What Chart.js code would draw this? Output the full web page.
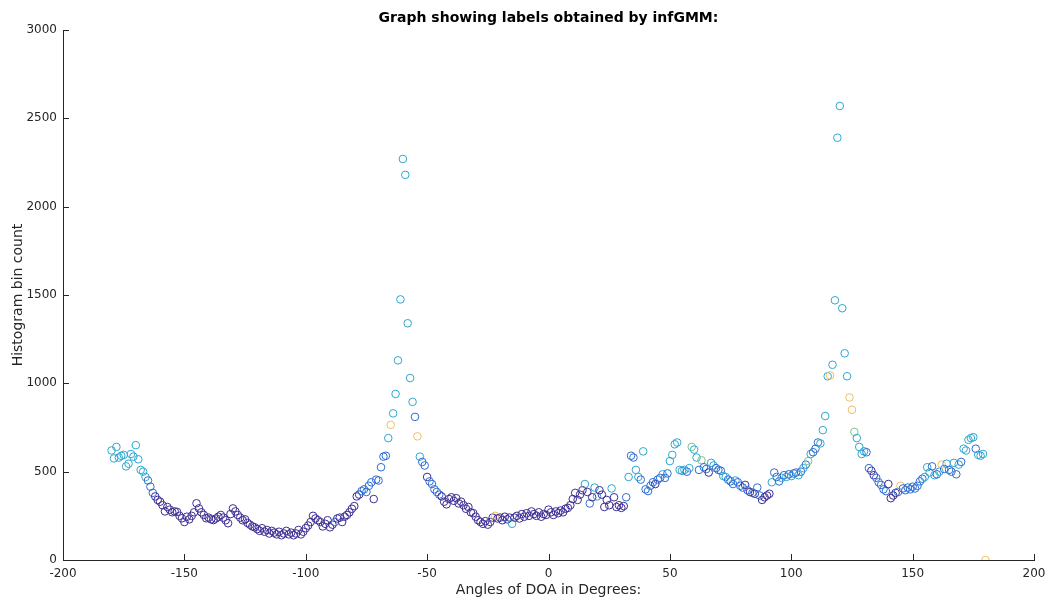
<!DOCTYPE html>
<html>
<head>
<meta charset="utf-8">
<script src="https://cdn.jsdelivr.net/npm/chart.js@4.4.0/dist/chart.umd.min.js"></script>
<style>
  html, body { margin: 0; padding: 0; background: #fff; }
</style>
</head>
<body>
<canvas id="labelChart" width="1047" height="600"></canvas>
<script>
// Histogramm der DOA-Winkel, gefärbt nach infGMM-Label
const chartTitle = 'Graph showing labels obtained by infGMM:';
const xTitle = 'Angles of DOA in Degrees:';
const yTitle = 'Histogram bin count';

// Bins von -180 bis 180 Grad, 1 Grad breit
const angles = Array.from({ length: 361 }, (_, i) => i - 180);

const counts = [
  620, 575, 640, 580, 590, 595, 530, 545, 600, 585,      // -180..-171
  650, 570, 510, 500, 470, 450, 415, 380, 360, 340,      // -170..-161
  330, 310, 275, 300, 285, 270, 275, 272, 250, 236,      // -160..-151
  215, 245, 230, 250, 270, 321, 292, 270, 255, 236,      // -150..-141
  240, 230, 226, 235, 245, 255, 240, 225, 208, 260,      // -140..-131
  292, 275, 255, 240, 225, 230, 210, 200, 190, 185,      // -130..-121
  175, 165, 180, 160, 170, 150, 165, 155, 145, 160,      // -120..-111
  140, 150, 165, 145, 155, 140, 150, 170, 145, 160,      // -110..-101
  180, 195, 215, 250, 235, 225, 215, 190, 205, 225,      // -100..-91
  185, 200, 215, 235, 240, 215, 245, 255, 270, 290,      // -90..-81
  305, 360, 370, 390, 400, 385, 420, 440, 345, 455,      // -80..-71
  450, 525, 585, 590, 690, 765, 830, 940, 1130, 1475,    // -70..-61
  2270, 2180, 1340, 1030, 895, 810, 700, 585, 555, 535,  // -60..-51
  470, 445, 430, 400, 385, 370, 360, 330, 315, 345,      // -50..-41
  355, 335, 350, 320, 330, 310, 290, 300, 270, 265,      // -40..-31
  245, 225, 215, 205, 220, 200, 215, 240, 250, 235,      // -30..-21
  240, 225, 245, 230, 240, 205, 240, 250, 235, 260,      // -20..-11
  245, 265, 250, 275, 260, 250, 270, 245, 260, 255,      // -10..-1
  285, 270, 255, 275, 265, 280, 270, 290, 295, 310,      // 0..9
  345, 380, 340, 370, 395, 430, 385, 320, 355, 410,      // 10..19
  360, 395, 370, 300, 340, 310, 405, 355, 300, 310,      // 20..29
  295, 305, 355, 470, 590, 580, 510, 470, 455, 615,      // 30..39
  400, 390, 420, 440, 430, 455, 465, 485, 465, 490,      // 40..49
  560, 595, 655, 665, 510, 505, 510, 500, 520, 640,      // 50..59
  625, 580, 510, 565, 525, 515, 495, 550, 535, 520,      // 60..69
  510, 505, 475, 470, 455, 445, 430, 450, 440, 420,      // 70..79
  410, 425, 395, 385, 380, 375, 410, 365, 340, 355,      // 80..89
  365, 375, 440, 495, 470, 445, 465, 480, 470, 485,      // 90..99
  475, 490, 495, 480, 500, 520, 540, 560, 600, 610,      // 100..109
  630, 665, 660, 735, 815, 1040, 1045, 1105, 1470, 2390, // 110..119
  2570, 1425, 1170, 1040, 920, 850, 725, 690, 640, 600,  // 120..129
  615, 610, 520, 505, 480, 465, 440, 425, 400, 390,      // 130..139
  430, 350, 365, 380, 385, 420, 405, 395, 410, 400,      // 140..149
  415, 405, 420, 445, 460, 470, 525, 495, 530, 480,      // 150..159
  485, 500, 540, 515, 545, 510, 500, 550, 485, 540,      // 160..169
  555, 630, 620, 680, 690, 695, 630, 595, 590, 600,      // 170..179
  0                                                      // 180
];

// Cluster-Label je Bin (0..4)
const labels = [
  2, 2, 2, 2, 2, 2, 2, 2, 2, 2,
  2, 2, 2, 2, 2, 1, 1, 1, 0, 0,
  0, 0, 0, 0, 0, 0, 0, 0, 0, 0,
  0, 0, 0, 0, 0, 0, 0, 0, 0, 0,
  0, 0, 0, 0, 0, 0, 0, 0, 0, 0,
  0, 0, 0, 0, 0, 0, 0, 0, 0, 0,
  0, 0, 0, 0, 0, 0, 0, 0, 0, 0,
  0, 0, 0, 0, 0, 0, 0, 0, 0, 0,
  0, 0, 0, 0, 0, 0, 0, 0, 0, 0,
  0, 0, 1, 0, 0, 0, 0, 0, 0, 0,
  0, 0, 0, 1, 1, 1, 1, 1, 0, 1,
  1, 1, 1, 1, 2, 4, 2, 2, 2, 2,
  2, 2, 2, 2, 2, 1, 4, 2, 1, 1,
  0, 1, 1, 1, 1, 1, 0, 0, 0, 0,
  0, 0, 0, 0, 0, 0, 0, 0, 0, 0,
  0, 0, 0, 0, 0, 0, 0, 0, 4, 0,
  0, 0, 0, 0, 0, 2, 0, 0, 0, 0,
  0, 0, 0, 0, 0, 0, 0, 0, 0, 0,
  0, 0, 0, 0, 0, 0, 0, 0, 0, 0,
  0, 0, 0, 0, 0, 2, 0, 1, 0, 2,
  2, 0, 0, 0, 0, 0, 2, 0, 0, 0,
  0, 0, 1, 2, 1, 1, 2, 2, 1, 2,
  1, 1, 1, 1, 0, 1, 1, 2, 1, 1,
  2, 2, 2, 2, 2, 2, 2, 1, 2, 3,
  2, 2, 1, 3, 1, 1, 0, 2, 2, 1,
  1, 1, 2, 2, 1, 1, 1, 2, 1, 1,
  1, 0, 1, 0, 1, 0, 1, 1, 0, 0,
  0, 0, 2, 1, 1, 1, 2, 1, 2, 1,
  2, 1, 1, 2, 1, 2, 1, 3, 2, 1,
  1, 1, 2, 2, 2, 2, 4, 2, 2, 2,
  2, 2, 2, 2, 4, 4, 3, 2, 2, 2,
  2, 1, 1, 0, 0, 1, 1, 1, 1, 1,
  0, 0, 0, 0, 1, 4, 1, 1, 1, 1,
  1, 1, 1, 1, 1, 2, 2, 2, 1, 2,
  1, 2, 4, 1, 2, 1, 1, 2, 1, 2,
  1, 2, 2, 2, 2, 2, 1, 2, 2, 2,
  4
];

const labelColors = ['#3d2e92', '#2c6dd3', '#2ea6cf', '#7cc38a', '#f0bd62'];

const xTicks = [-200, -150, -100, -50, 0, 50, 100, 150, 200];
const yTicks = [0, 500, 1000, 1500, 2000, 2500, 3000];

const axisColor = '#262626';
const fontFamily = '"DejaVu Sans", "Liberation Sans", sans-serif';

const points = angles.map((a, i) => ({ x: a, y: counts[i] }));

// Ticks nach innen wie in MATLAB, Titel über der Zeichenfläche
const matlabAxes = {
  id: 'matlabAxes',
  afterDraw(chart) {
    const { ctx, chartArea: a, scales: { x, y } } = chart;
    ctx.save();
    ctx.strokeStyle = axisColor;
    ctx.lineWidth = 1;
    x.ticks.forEach(t => {
      const p = Math.round(x.getPixelForValue(t.value)) + 0.5;
      ctx.beginPath();
      ctx.moveTo(p, a.bottom);
      ctx.lineTo(p, a.bottom - 6);
      ctx.stroke();
    });
    y.ticks.forEach(t => {
      const p = Math.round(y.getPixelForValue(t.value)) + 0.5;
      ctx.beginPath();
      ctx.moveTo(a.left, p);
      ctx.lineTo(a.left + 6, p);
      ctx.stroke();
    });
    ctx.fillStyle = '#000';
    ctx.font = 'bold 14px ' + fontFamily;
    ctx.textAlign = 'center';
    ctx.textBaseline = 'middle';
    ctx.fillText(chartTitle, (a.left + a.right) / 2, 18);
    ctx.restore();
  }
};

const ctx = document.getElementById('labelChart').getContext('2d');
const labelChart = new Chart(ctx, {
  type: 'scatter',
  data: {
    datasets: [{
      data: points,
      pointStyle: 'circle',
      pointRadius: 3.8,
      pointHoverRadius: 3.8,
      pointBorderWidth: 1,
      pointBackgroundColor: 'rgba(0,0,0,0)',
      pointBorderColor: c => labelColors[labels[c.dataIndex]]
    }]
  },
  options: {
    responsive: false,
    animation: false,
    devicePixelRatio: 1,
    layout: { padding: { left: 10, right: 13, top: 30, bottom: 0 } },
    plugins: {
      legend: { display: false },
      tooltip: { enabled: false }
    },
    scales: {
      x: {
        type: 'linear',
        min: -200,
        max: 200,
        afterBuildTicks: s => { s.ticks = xTicks.map(v => ({ value: v })); },
        afterFit: s => { s.height = 40; s.paddingLeft = 0; s.paddingRight = 0; },
        ticks: {
          color: axisColor, font: { family: fontFamily, size: 12 }, padding: 7, maxRotation: 0,
          callback: v => String(v)
        },
        grid: { display: false, drawTicks: false },
        border: { display: true, color: axisColor, width: 1 },
        title: {
          display: true, text: xTitle, color: axisColor,
          font: { family: fontFamily, size: 14 }, padding: { top: 0, bottom: 1 }
        }
      },
      y: {
        type: 'linear',
        min: 0,
        max: 3000,
        afterBuildTicks: s => { s.ticks = yTicks.map(v => ({ value: v })); },
        afterFit: s => { s.width = 53; s.paddingTop = 0; s.paddingBottom = 0; },
        ticks: {
          color: axisColor, font: { family: fontFamily, size: 12 }, padding: 6,
          callback: v => String(v)
        },
        grid: { display: false, drawTicks: false },
        border: { display: true, color: axisColor, width: 1 },
        title: {
          display: true, text: yTitle, color: axisColor,
          font: { family: fontFamily, size: 14 }, padding: { top: 0, bottom: 0 }
        }
      }
    }
  },
  plugins: [matlabAxes]
});
</script>
</body>
</html>
